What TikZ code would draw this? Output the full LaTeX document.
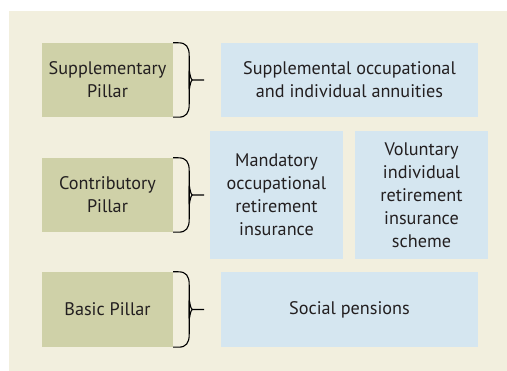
\documentclass[tikz,border=0pt]{standalone}
\usepackage{fontspec}
\setmainfont{PT Sans}
\definecolor{bgc}{RGB}{242,239,222}
\definecolor{pillarc}{RGB}{207,209,168}
\definecolor{schemec}{RGB}{213,230,240}
\definecolor{txtc}{RGB}{35,31,32}
\begin{document}
\begin{tikzpicture}[x=1pt,y=-1pt,
  pillar/.style={fill=pillarc,minimum width=131pt,minimum height=74pt,align=center,inner sep=2pt,text=txtc},
  scheme/.style={fill=schemec,align=center,inner sep=2pt,text=txtc},
  bracket/.style={draw=black,line width=1.1pt},
  every node/.append style={font=\fontsize{18.2}{23}\selectfont}]
\useasboundingbox (0,0) rectangle (507,371);
\fill[bgc] (9,11) rectangle (507,371);
% pillars
\node[pillar] (sp) at (107.5,80) {Supplementary\\Pillar};
\node[pillar] (cp) at (107.5,195) {Contributory\\Pillar};
\node[pillar,minimum height=75pt] (bp) at (107.5,309.5) {Basic Pillar};
% schemes
\node[scheme,minimum width=257pt,minimum height=74pt] (sa) at (349.5,80) {Supplemental occupational\\and individual annuities};
\node[scheme,minimum width=133pt,minimum height=128pt] (mo) at (276.5,195) {Mandatory\\occupational\\retirement\\insurance};
\node[scheme,minimum width=133pt,minimum height=128pt] (vi) at (421.5,195) {Voluntary\\individual\\retirement\\insurance\\scheme};
\node[scheme,minimum width=257pt,minimum height=75pt] (so) at (349.5,309.5) {Social pensions};
% braces
\foreach \p in {sp,cp,bp}{
  \coordinate (tip-\p) at ([xshift=31pt]\p.east);
  \coordinate (cusp-\p) at ([xshift=19pt]\p.east);
  \draw[bracket] (\p.north east) -- ++(5,0)
     .. controls ++(8,0) and ++(0,-9) .. ++(11,13)
     -- ([xshift=16pt,yshift=-8pt]\p.east)
     .. controls ++(0,5) and ++(-2,0) .. (cusp-\p)
     -- (tip-\p);
  \draw[bracket] (\p.south east) -- ++(5,0)
     .. controls ++(8,0) and ++(0,9) .. ++(11,-13)
     -- ([xshift=16pt,yshift=8pt]\p.east)
     .. controls ++(0,-5) and ++(-2,0) .. (cusp-\p);
}
\end{tikzpicture}
\end{document}
